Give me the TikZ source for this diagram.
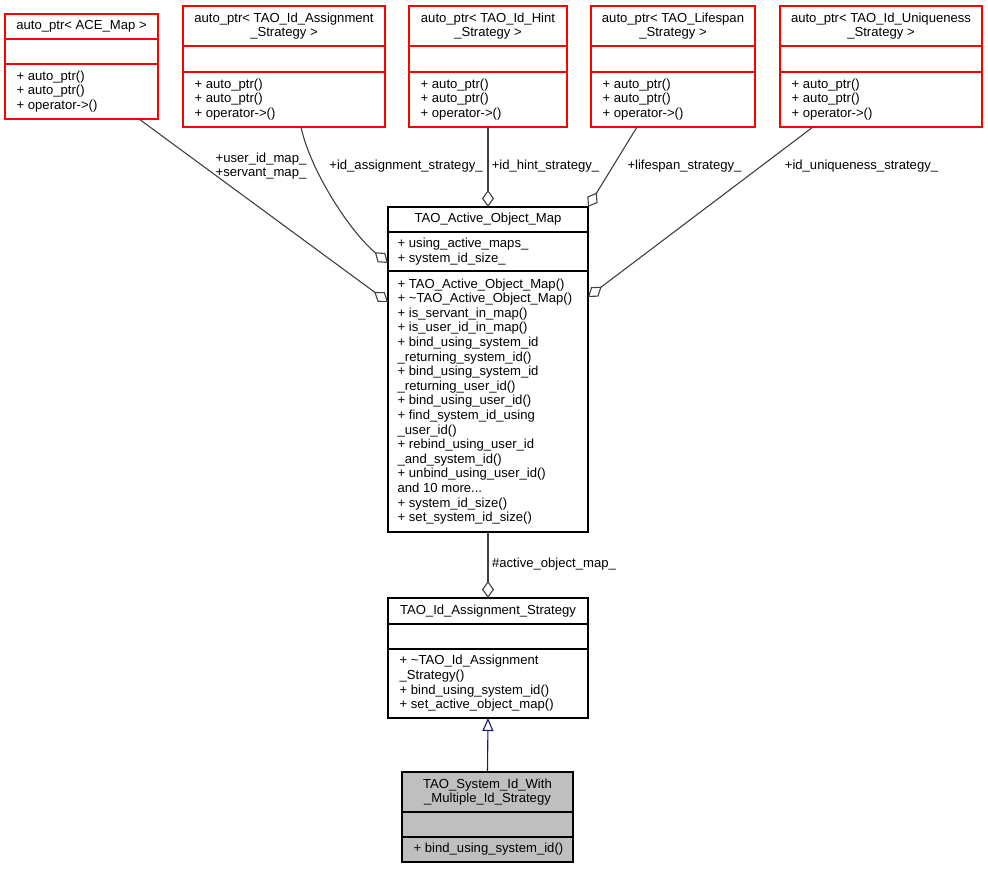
\documentclass[tikz,border=0pt]{standalone}
\usepackage{fontspec}
\setmainfont{Liberation Sans}
\usetikzlibrary{calc,positioning,arrows.meta}

\newcommand{\boxfont}{\fontsize{13.1}{14.6}\selectfont}
\definecolor{edgegray}{RGB}{64,64,64}
\definecolor{inhblue}{RGB}{25,25,112}
\definecolor{selgray}{RGB}{191,191,191}

\begin{document}
\begin{tikzpicture}[x=1pt,y=-1pt,line width=1.3pt,
  redbox/.style={draw=red,fill=white,anchor=north west,outer sep=0pt,inner sep=0pt},
  blackbox/.style={draw=black,fill=white,anchor=north west,outer sep=0pt,inner sep=0pt},
  redsep/.style={draw=red},
  txt/.style={font=\boxfont,inner sep=0pt,align=left,anchor=west},
  ttl/.style={font=\boxfont,inner sep=0pt,align=center},
  lbl/.style={font=\boxfont,inner sep=0pt,align=center},
  aggr/.style={draw=edgegray,line width=1.1pt,-{Diamond[open,length=17pt,width=12pt]}},
  inherit/.style={draw=inhblue,line width=1.1pt,-{Triangle[open,length=13pt,width=11pt]}}]
\useasboundingbox (0,0) rectangle (988,869);

% the auto_ptr boxes
\node[redbox,minimum width=153,minimum height=105] (acemap) at (5,14) {};
\draw[redsep] (5,39) -- (158,39) (5,64) -- (158,64);
\node[ttl] (acemapttl) at (81.5,26.5) {auto\_ptr< ACE\_Map >};
\node[txt] (acemapops) at (16,91.5) {+ auto\_ptr()\\+ auto\_ptr()\\+ operator->()};

\node[redbox,minimum width=202,minimum height=121] (assignptr) at (183,6) {};
\draw[redsep] (183,46) -- (385,46) (183,72) -- (385,72);
\node[ttl] (assignptrttl) at (284,26) {auto\_ptr< TAO\_Id\_Assignment\\\_Strategy >};
\node[txt] (assignptrops) at (194,99.5) {+ auto\_ptr()\\+ auto\_ptr()\\+ operator->()};

\node[redbox,minimum width=158,minimum height=121] (hintptr) at (409,6) {};
\draw[redsep] (409,46) -- (567,46) (409,72) -- (567,72);
\node[ttl] (hintptrttl) at (488,26) {auto\_ptr< TAO\_Id\_Hint\\\_Strategy >};
\node[txt] (hintptrops) at (420,99.5) {+ auto\_ptr()\\+ auto\_ptr()\\+ operator->()};

\node[redbox,minimum width=164,minimum height=121] (lifeptr) at (591,6) {};
\draw[redsep] (591,46) -- (755,46) (591,72) -- (755,72);
\node[ttl] (lifeptrttl) at (673,26) {auto\_ptr< TAO\_Lifespan\\\_Strategy >};
\node[txt] (lifeptrops) at (602,99.5) {+ auto\_ptr()\\+ auto\_ptr()\\+ operator->()};

\node[redbox,minimum width=202,minimum height=121] (uniqptr) at (780,6) {};
\draw[redsep] (780,46) -- (982,46) (780,72) -- (982,72);
\node[ttl] (uniqptrttl) at (881,26) {auto\_ptr< TAO\_Id\_Uniqueness\\\_Strategy >};
\node[txt] (uniqptrops) at (791,99.5) {+ auto\_ptr()\\+ auto\_ptr()\\+ operator->()};

% active object map
\node[blackbox,minimum width=200,minimum height=325] (aomap) at (388,207) {};
\draw (388,232) -- (588,232) (388,271) -- (588,271);
\node[ttl] (aomapttl) at (488,219.5) {TAO\_Active\_Object\_Map};
\node[txt] (aomapattr) at (397,251.5) {+ using\_active\_maps\_\\+ system\_id\_size\_};
\node[txt] (aomapops) at (397,401.5) {+ TAO\_Active\_Object\_Map()\\
+ \textasciitilde TAO\_Active\_Object\_Map()\\
+ is\_servant\_in\_map()\\
+ is\_user\_id\_in\_map()\\
+ bind\_using\_system\_id\\
\_returning\_system\_id()\\
+ bind\_using\_system\_id\\
\_returning\_user\_id()\\
+ bind\_using\_user\_id()\\
+ find\_system\_id\_using\\
\_user\_id()\\
+ rebind\_using\_user\_id\\
\_and\_system\_id()\\
+ unbind\_using\_user\_id()\\
and 10 more...\\
+ system\_id\_size()\\
+ set\_system\_id\_size()};

% assignment strategy
\node[blackbox,minimum width=200,minimum height=120] (assignstrat) at (388,598) {};
\draw (388,624) -- (588,624) (388,649) -- (588,649);
\node[ttl] (assignstratttl) at (488,611) {TAO\_Id\_Assignment\_Strategy};
\node[txt] (assignstratops) at (399,683.5) {+ \textasciitilde TAO\_Id\_Assignment\\\_Strategy()\\+ bind\_using\_system\_id()\\+ set\_active\_object\_map()};

% system id strategy
\node[blackbox,fill=selgray,minimum width=171,minimum height=90] (sysid) at (402,772) {};
\draw (402,812) -- (573,812) (402,837) -- (573,837);
\node[ttl] (sysidttl) at (487.5,792) {TAO\_System\_Id\_With\\\_Multiple\_Id\_Strategy};
\node[txt] (sysidops) at (413,849.5) {+ bind\_using\_system\_id()};

% connectors
\draw[aggr] ($(acemap.south west)+(134,0)$) -- ($(aomap.north west)+(0,95)$);
\draw[aggr] ($(assignptr.south west)+(118,0)$) .. controls (310,170) and (350,232) .. ($(aomap.north west)+(0,56)$);
\draw[aggr] (hintptr.south) -- (aomap.north);
\draw[aggr] ($(lifeptr.south west)+(46,0)$) -- (aomap.north east);
\draw[aggr] ($(uniqptr.south west)+(33,0)$) -- ($(aomap.north east)+(0,90)$);
\draw[aggr] (aomap.south) -- (assignstrat.north);
\draw[inherit] (sysid.north) -- (assignstrat.south);

% labels
\node[lbl] (lblmaps) at (261,166) {+user\_id\_map\_\\+servant\_map\_};
\node[lbl] (lblassign) at (406,166) {+id\_assignment\_strategy\_};
\node[lbl] (lblhint) at (545.5,166) {+id\_hint\_strategy\_};
\node[lbl] (lbllife) at (684.5,166) {+lifespan\_strategy\_};
\node[lbl] (lbluniq) at (861.5,166) {+id\_uniqueness\_strategy\_};
\node[lbl] (lblaomap) at (554,564) {\#active\_object\_map\_};
\end{tikzpicture}
\end{document}
